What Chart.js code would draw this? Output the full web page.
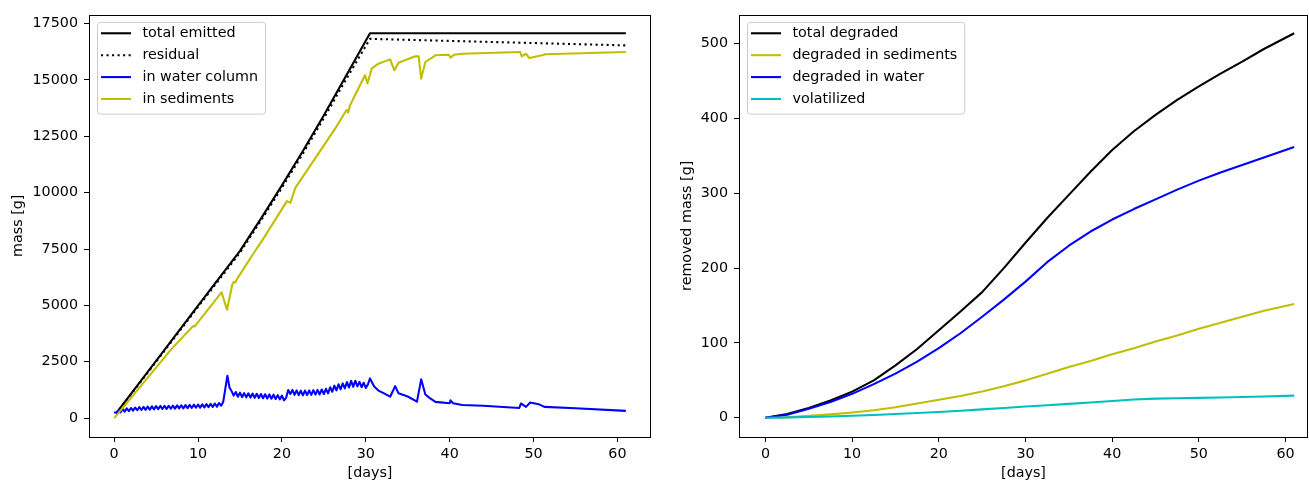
<!DOCTYPE html>
<html><head><meta charset="utf-8">
<script src="https://cdn.jsdelivr.net/npm/chart.js@4.4.1/dist/chart.umd.min.js"></script>
<style>
html,body{margin:0;padding:0;background:#fff;}
#wrap{position:relative;width:1309px;height:483px;overflow:hidden;background:#fff;}
canvas{position:absolute;top:0;}
#c1{left:0;}
#c2{left:654px;}
</style></head><body>
<div id="wrap"><canvas id="c1" width="654" height="483"></canvas><canvas id="c2" width="655" height="483"></canvas></div>
<script>
// ---------- left chart data ----------
const leftXTicks = [0, 10, 20, 30, 40, 50, 60];
const leftYTicks = [0, 2500, 5000, 7500, 10000, 12500, 15000, 17500];

const emittedDays = [0.25, 5, 10, 15, 17.5, 20, 22.5, 25, 27.5, 30.5, 61];
const emittedMass = [220, 2535, 4986, 7419, 8850, 10320, 11850, 13430, 15080, 17070, 17070];

const residualDays = [0.25, 5, 10, 15, 17.5, 20, 22.5, 25, 27.5, 30.5, 61];
const residualMass = [200, 2500, 4930, 7340, 8760, 10220, 11730, 13300, 14930, 16820, 16530];

const waterDays = [0,0.25,0.5,0.75,1,1.25,1.5,1.75,2,2.25,2.5,2.75,3,3.25,3.5,3.75,4,4.25,4.5,4.75,
  5,5.25,5.5,5.75,6,6.25,6.5,6.75,7,7.25,7.5,7.75,8,8.25,8.5,8.75,9,9.25,9.5,9.75,
  10,10.25,10.5,10.75,11,11.25,11.5,11.75,12,12.25,12.5,12.75,13,13.25,13.5,13.75,14,14.25,14.5,14.75,
  15,15.25,15.5,15.75,16,16.25,16.5,16.75,17,17.25,17.5,17.75,18,18.25,18.5,18.75,19,19.25,19.5,19.75,
  20,20.25,20.5,20.75,21,21.25,21.5,21.75,22,22.25,22.5,22.75,23,23.25,23.5,23.75,24,24.25,24.5,24.75,
  25,25.25,25.5,25.75,26,26.25,26.5,26.75,27,27.25,27.5,27.75,28,28.25,28.5,28.75,29,29.25,29.5,29.75,
  30,30.25,30.5,31,31.5,32,32.9,33.5,33.9,35,36.1,36.6,37.1,37.6,38.3,40,40.1,40.4,41.5,44,
  48.3,48.5,49.1,49.6,50.6,51.3,55,61];
const waterMass = [260,240,340,250,410,290,430,310,450,330,470,350,490,360,500,370,510,380,520,390,
  530,400,540,405,545,410,550,415,555,420,565,430,570,435,575,440,585,450,595,460,
  605,465,610,475,625,485,635,495,650,510,670,550,720,1300,1880,1350,1200,1000,1160,950,
  1130,930,1110,920,1100,910,1090,900,1080,890,1070,880,1060,870,1050,860,1040,850,1020,830,
  1000,790,900,1250,1070,1250,1030,1230,1020,1220,1010,1220,1020,1230,1030,1240,1040,1250,1050,1270,
  1070,1300,1100,1370,1170,1440,1230,1500,1280,1540,1320,1600,1360,1650,1390,1660,1410,1610,1370,1570,
  1340,1490,1760,1400,1220,1130,950,1420,1100,960,730,1720,1050,900,720,660,790,660,580,550,
  450,650,500,690,620,500,440,320];

const sedDays = [0, 6.8, 9.4, 9.6, 12.8, 13.45, 14.1, 14.3, 14.45, 14.7, 16.6, 17.6, 20.6, 21.0, 21.6,
  26.5, 27.7, 27.9, 28.1, 29.9, 30.2, 30.7, 31.5, 32.9, 33.4, 33.9, 35.9, 36.3, 36.6, 37.1, 38.3,
  39.9, 40.1, 40.5, 41.5, 48.4, 48.6, 49.1, 49.5, 51.0, 51.4, 61];
const sedMass = [0, 3050, 4080, 4070, 5580, 4805, 5950, 6050, 6020, 6200, 7300, 7850, 9622, 9548, 10210,
  12930, 13665, 13550, 13850, 15207, 14838, 15500, 15720, 15910, 15428, 15765, 16045, 16045, 15058, 15794, 16090,
  16116, 15985, 16116, 16160, 16235, 16045, 16160, 15970, 16090, 16135, 16235];

// ---------- right chart data ----------
const rightXTicks = [0, 10, 20, 30, 40, 50, 60];
const rightYTicks = [0, 100, 200, 300, 400, 500];
const degDays = [0, 2.5, 5, 7.5, 10, 12.5, 15, 17.5, 20, 22.5, 25, 27.5, 30, 32.5, 35, 37.5, 40, 42.5, 45, 47.5, 50, 52.5, 55, 57.5, 61];
const totalDegraded = [0, 5, 13, 23, 35, 50, 70, 92, 117, 142, 168, 200, 234, 267, 298, 329, 358, 383, 405, 425, 443, 460, 476, 493, 514];
const degradedSediments = [0, 0.5, 2.5, 4.5, 7, 10, 14, 19, 24, 29, 35, 42, 50, 59, 68, 76, 85, 93, 102, 110, 119, 127, 135, 143, 152];
const degradedWater = [0, 4, 12, 21, 32, 45, 59, 75, 93, 113, 135, 158, 182, 208, 230, 249, 265, 279, 292, 305, 317, 328, 338, 348, 362];
const volatilized = [0, 0.5, 1, 1.7, 2.7, 3.8, 5, 6.3, 7.8, 9.5, 11.2, 13, 15, 16.8, 18.6, 20.5, 22.4, 24.5, 25.6, 26.1, 26.6, 27.2, 27.8, 28.4, 29.6];

// ---------- helpers ----------
const FS = 14.3;
const FONT = {family: 'DejaVu Sans', size: FS};
const pts = (xs, ys) => xs.map((x, i) => ({x: x, y: ys[i]}));

function line(label, xs, ys, color, dash, idx, n) {
  return {
    label, data: pts(xs, ys), borderColor: color, backgroundColor: color,
    borderWidth: 2.08, borderDash: dash || [], pointRadius: 0, pointHoverRadius: 0,
    tension: 0, fill: false, borderJoinStyle: 'round', borderCapStyle: 'butt',
    order: n - idx
  };
}

function roundRectPath(ctx, x, y, w, h, r) {
  ctx.beginPath();
  ctx.moveTo(x + r, y);
  ctx.lineTo(x + w - r, y); ctx.quadraticCurveTo(x + w, y, x + w, y + r);
  ctx.lineTo(x + w, y + h - r); ctx.quadraticCurveTo(x + w, y + h, x + w - r, y + h);
  ctx.lineTo(x + r, y + h); ctx.quadraticCurveTo(x, y + h, x, y + h - r);
  ctx.lineTo(x, y + r); ctx.quadraticCurveTo(x, y, x + r, y);
  ctx.closePath();
}

const mplFrame = {
  id: 'mplFrame',
  afterDraw(chart) {
    const {ctx, chartArea: a} = chart;
    ctx.save();
    ctx.strokeStyle = '#000';
    ctx.lineWidth = 1;
    ctx.setLineDash([]);
    ctx.strokeRect(Math.round(a.left) + 0.5, Math.round(a.top) + 0.5,
      Math.round(a.right) - Math.round(a.left) - 1, Math.round(a.bottom) - Math.round(a.top));
    const ds = chart.data.datasets;
    ctx.font = FS + 'px "DejaVu Sans"';
    let maxW = 0;
    ds.forEach(d => { maxW = Math.max(maxW, ctx.measureText(d.label).width); });
    const bx = a.left + 8, by = a.top + 7.3, bw = 45.5 + maxW + 7, bh = 91.7;
    roundRectPath(ctx, bx + 0.5, by + 0.5, bw, bh, 3);
    ctx.fillStyle = 'rgba(255,255,255,0.8)';
    ctx.fill();
    ctx.strokeStyle = '#cccccc';
    ctx.lineWidth = 1;
    ctx.stroke();
    ds.forEach((d, i) => {
      const y = by + 11.4 + i * 21.9;
      ctx.beginPath();
      ctx.setLineDash(d.borderDash || []);
      ctx.strokeStyle = d.borderColor;
      ctx.lineWidth = 2.08;
      ctx.lineCap = 'butt';
      ctx.moveTo(bx + 4, y);
      ctx.lineTo(bx + 34, y);
      ctx.stroke();
      ctx.setLineDash([]);
      ctx.fillStyle = '#000';
      ctx.textBaseline = 'middle';
      ctx.textAlign = 'left';
      ctx.fillText(d.label, bx + 45.5, y + 0.5);
    });
    ctx.restore();
  }
};

function axisX(min, max, ticks) {
  return {
    type: 'linear', min, max,
    afterBuildTicks: s => { s.ticks = ticks.map(v => ({value: v})); },
    afterFit: s => { s.height = 46; },
    grid: {drawOnChartArea: false, drawTicks: true, tickLength: 5, color: '#000', lineWidth: 1},
    border: {display: false},
    ticks: {color: '#000', font: FONT, padding: 4, maxRotation: 0, autoSkip: false, callback: v => String(v)},
    title: {display: true, text: '[days]', color: '#000', font: FONT, padding: {top: 0, bottom: 1}}
  };
}
function axisY(min, max, ticks, width, title, titlePad) {
  return {
    type: 'linear', min, max,
    afterBuildTicks: s => { s.ticks = ticks.map(v => ({value: v})); },
    afterFit: s => { s.width = width; },
    grid: {drawOnChartArea: false, drawTicks: true, tickLength: 5, color: '#000', lineWidth: 1},
    border: {display: false},
    ticks: {color: '#000', font: FONT, padding: 6, autoSkip: false, callback: v => String(v)},
    title: {display: true, text: title, color: '#000', font: FONT, padding: {top: titlePad, bottom: 0}}
  };
}

const common = (padRight) => ({
  responsive: false, animation: false, devicePixelRatio: 1,
  layout: {padding: {left: 0, top: 12, right: padRight, bottom: 0}},
  plugins: {legend: {display: false}, tooltip: {enabled: false}},
  events: []
});

// ---------- left chart ----------
new Chart(document.getElementById('c1'), {
  type: 'line',
  data: {datasets: [
    line('total emitted', emittedDays, emittedMass, '#000000', null, 0, 4),
    line('residual', residualDays, residualMass, '#000000', [2.08, 3.44], 1, 4),
    line('in water column', waterDays, waterMass, '#0000ff', null, 2, 4),
    line('in sediments', sedDays, sedMass, '#bfbf00', null, 3, 4)
  ]},
  options: Object.assign(common(3), {
    scales: {
      x: axisX(-3.0, 64.0, leftXTicks),
      y: axisY(-837, 17897, leftYTicks, 89, 'mass [g]', 10)
    }
  }),
  plugins: [mplFrame]
});

// ---------- right chart ----------
new Chart(document.getElementById('c2'), {
  type: 'line',
  data: {datasets: [
    line('total degraded', degDays, totalDegraded, '#000000', null, 0, 4),
    line('degraded in sediments', degDays, degradedSediments, '#bfbf00', null, 1, 4),
    line('degraded in water', degDays, degradedWater, '#0000ff', null, 2, 4),
    line('volatilized', degDays, volatilized, '#00bfbf', null, 3, 4)
  ]},
  options: Object.assign(common(1), {
    scales: {
      x: axisX(-3.05, 62.59, rightXTicks),
      y: axisY(-25.7, 539, rightYTicks, 85, 'removed mass [g]', 24.4)
    }
  }),
  plugins: [mplFrame]
});
</script>
</body></html>
